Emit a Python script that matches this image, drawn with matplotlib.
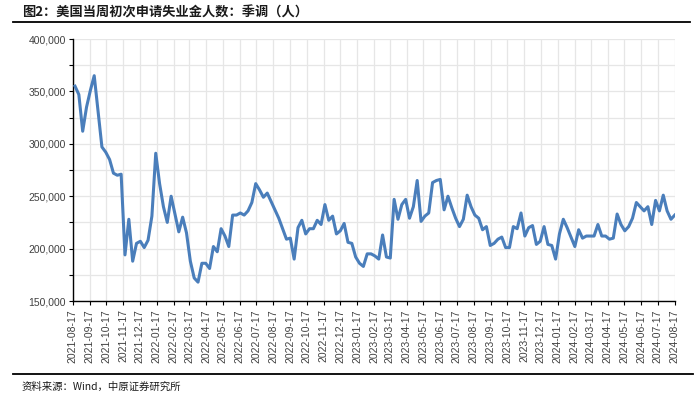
import matplotlib
matplotlib.use('Agg')
import matplotlib.pyplot as plt
import matplotlib.dates as mdates
from matplotlib.lines import Line2D
from matplotlib.ticker import FuncFormatter, MultipleLocator
import pandas as pd

plt.rcParams['font.family'] = ['Noto Sans CJK SC', 'DejaVu Sans']

TITLE = '图2：美国当周初次申请失业金人数：季调（人）'
SOURCE = '资料来源：Wind，中原证券研究所'

# weekly initial claims, seasonally adjusted (thousands), week ending 2021-08-21 .. 2024-08-17
claims_2021 = [355, 347, 312, 335, 351, 365, 331, 297, 292, 285, 272, 270, 271, 194,
               228, 188, 205, 207, 201, 208]
claims_2022 = [231, 291, 262, 240, 225, 250, 233, 216, 230, 215, 188, 172, 168, 186,
               186, 181, 202, 197, 219, 212, 202, 232, 232, 234, 232, 236, 244, 262,
               256, 249, 253, 245, 237, 229, 219, 209, 210, 190, 220, 227, 214, 219,
               219, 227, 223, 242, 227, 231, 214, 217, 224, 206]
claims_2023 = [205, 192, 186, 183, 195, 195, 193, 190, 213, 192, 191, 247, 228, 242,
               247, 229, 240, 265, 226, 231, 234, 263, 265, 266, 237, 250, 239, 229,
               221, 228, 251, 240, 232, 229, 218, 221, 203, 205, 209, 211, 201, 201,
               221, 219, 234, 212, 220, 222, 204, 207, 221, 204]
claims_2024 = [203, 190, 214, 228, 220, 211, 202, 218, 210, 212, 212, 212, 223, 212,
               212, 209, 210, 233, 223, 217, 221, 229, 244, 240, 236, 240, 223, 246,
               236, 251, 236, 228, 232]

claims = [v * 1000 for v in claims_2021 + claims_2022 + claims_2023 + claims_2024]
weeks = pd.date_range('2021-08-21', periods=len(claims), freq='7D')

fig = plt.figure(figsize=(7.0, 3.94), dpi=100)
ax = fig.add_axes([0.104, 0.236, 0.860, 0.665])

ax.plot(weeks, claims, color='#4a7ebb', lw=2.2, solid_joinstyle='round', zorder=3)

ax.set_xlim(pd.Timestamp('2021-08-17'), pd.Timestamp('2024-08-17'))
ax.set_ylim(150000, 400000)

ax.xaxis.set_major_locator(mdates.MonthLocator(bymonthday=17))
ax.xaxis.set_major_formatter(mdates.DateFormatter('%Y-%m-%d'))
ax.yaxis.set_major_locator(MultipleLocator(25000))
ax.yaxis.set_major_formatter(FuncFormatter(
    lambda v, p: f'{int(v):,}' if int(v) % 50000 == 0 else ''))

ax.grid(True, color='#e6e6e6', lw=0.9, zorder=0)
ax.set_axisbelow(True)
for s in ['top', 'right']:
    ax.spines[s].set_visible(False)
for s in ['left', 'bottom']:
    ax.spines[s].set_color('black')
    ax.spines[s].set_linewidth(1.0)

ax.tick_params(axis='x', direction='out', length=3, width=0.8, color='black',
               labelsize=7.5, labelcolor='#404040', rotation=90, pad=3)
ax.tick_params(axis='y', direction='out', length=3, width=0.8, color='black',
               labelsize=7.5, labelcolor='#404040', pad=2)
for lab in ax.get_xticklabels() + ax.get_yticklabels():
    lab.set_family('Liberation Sans')

fig.text(0.031, 0.968, TITLE, fontsize=9.5, fontweight='bold', ha='left', va='center',
         color='#1a1a1a')
fig.add_artist(Line2D([0.019, 0.986], [0.944, 0.944], color='black', lw=1.3,
                      transform=fig.transFigure))
fig.add_artist(Line2D([0.019, 0.990], [0.051, 0.051], color='black', lw=1.3,
                      transform=fig.transFigure))
fig.text(0.031, 0.018, SOURCE, fontsize=7.5, ha='left', va='center', color='#1a1a1a',
         family=['Noto Sans CJK SC', 'Liberation Sans'])

fig.savefig('out.png', dpi=100)
